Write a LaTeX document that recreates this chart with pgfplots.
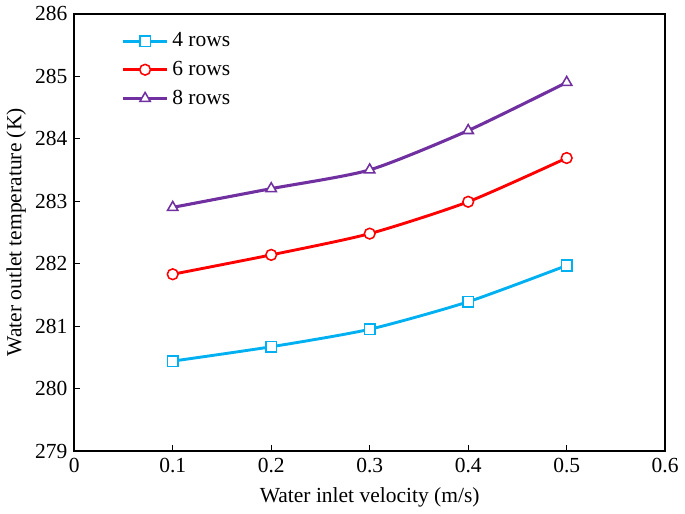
\documentclass[border=0pt]{standalone}
\usepackage{pgfplots}
\pgfplotsset{compat=1.18}
\usepackage{fontspec}
\setmainfont{Liberation Serif}
\definecolor{cyanrow}{RGB}{0,176,240}
\definecolor{redrow}{RGB}{255,0,0}
\definecolor{purprow}{RGB}{112,48,160}
\begin{document}
\begin{tikzpicture}
\begin{axis}[
  scale only axis,
  width=308pt, height=228pt,
  xmin=0, xmax=0.6, ymin=279, ymax=286,
  xtick={0,0.1,...,0.6}, ytick={279,...,286},
  xticklabels={0,0.1,0.2,0.3,0.4,0.5,0.6},
  tick align=inside, tick pos=left,
  major tick length=3pt,
  axis line style={line width=1pt},
  every tick/.style={black, line width=0.5pt},
  tick label style={font=\fontsize{11.2}{13}\selectfont},
  label style={font=\fontsize{11.2}{13}\selectfont},
  /pgf/number format/assume math mode=true,
  y tick label style={/pgf/number format/.cd, fixed, precision=0, 1000 sep={}},
  xlabel={Water inlet velocity (m/s)},
  ylabel={Water outlet temperature (K)},
  xlabel style={yshift=-1pt},
  ylabel style={yshift=-2pt},
  legend style={draw=none, fill=none, at={(0.07,0.975)}, anchor=north west,
    font=\fontsize{11.2}{13}\selectfont, row sep=2pt},
  legend cell align=left,
  legend image code/.code={\draw[mark repeat=2,mark phase=2]
    plot coordinates {(0cm,0cm) (0.4cm,0cm) (0.8cm,0cm)};},
]
\addplot[color=cyanrow, line width=1.5pt, smooth, tension=0.4, mark=square*, mark size=2.8pt,
  mark options={fill=white, line width=0.8pt}] coordinates {
  (0.1,280.44) (0.2,280.67) (0.3,280.95) (0.4,281.39) (0.5,281.97)};
\addlegendentry{4 rows}
\addplot[color=redrow, line width=1.5pt, smooth, tension=0.4, mark=*, mark size=2.8pt,
  mark options={fill=white, line width=0.8pt}] coordinates {
  (0.1,281.83) (0.2,282.14) (0.3,282.48) (0.4,282.99) (0.5,283.69)};
\addlegendentry{6 rows}
\addplot[color=purprow, line width=1.6pt, smooth, tension=0.4, mark=triangle*, mark size=3.1pt,
  mark options={fill=white, line width=0.8pt}] coordinates {
  (0.1,282.90) (0.2,283.20) (0.3,283.50) (0.4,284.13) (0.5,284.90)};
\addlegendentry{8 rows}
\end{axis}
\end{tikzpicture}
\end{document}
